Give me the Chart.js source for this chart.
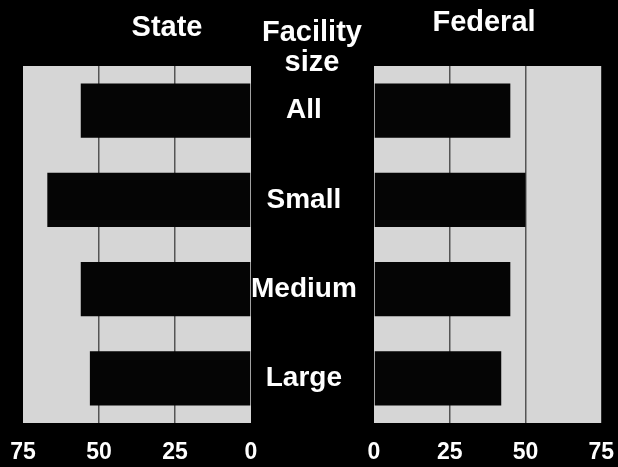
<!DOCTYPE html>
<html>
<head>
<meta charset="utf-8">
<script src="https://cdn.jsdelivr.net/npm/chart.js@4.4.0/dist/chart.umd.min.js"></script>
<style>
    html, body { margin: 0; padding: 0; background: #000; }
    #wrap { position: relative; width: 618px; height: 467px; overflow: hidden; background: #000; }
    canvas { position: absolute; top: 0; }
    .rotulo {
        position: absolute;
        color: #fff;
        font-family: "Liberation Sans", Arial, sans-serif;
        font-weight: bold;
        font-size: 29px;
        line-height: 29px;
        white-space: nowrap;
        transform: translateX(-50%);
    }
</style>
</head>
<body>
<div id="wrap">
    <canvas id="estatal" width="374" height="467" style="left:0"></canvas>
    <canvas id="federal" width="286" height="467" style="left:344px"></canvas>
    <div class="rotulo" style="left:167px; top:12px">State</div>
    <div class="rotulo" style="left:484px; top:7px">Federal</div>
    <div class="rotulo" style="left:312px; top:17px">Facility</div>
    <div class="rotulo" style="left:312px; top:47px">size</div>
</div>
<script>
    const tamanos = ['All', 'Small', 'Medium', 'Large'];
    const estatal = [56, 67, 56, 53];
    const federal = [45, 50, 45, 42];
    const marcas = [0, 25, 50, 75];

    const fondoPanel = {
        id: 'fondoPanel',
        beforeDraw(chart) {
            const a = chart.chartArea;
            const c = chart.ctx;
            c.save();
            c.fillStyle = '#d6d6d6';
            c.fillRect(a.left, a.top, a.right - a.left, a.bottom - a.top);
            c.restore();
        }
    };

    function ejeX(invertido) {
        return {
            reverse: invertido,
            min: 0,
            max: 75,
            afterFit: function(eje) { eje.height = 44; },
            afterBuildTicks: function(eje) {
                eje.ticks = marcas.map(v => ({ value: v }));
            },
            ticks: {
                color: '#fff',
                padding: 16,
                maxRotation: 0,
                font: { family: 'Liberation Sans', weight: 'bold', size: 23 }
            },
            grid: {
                drawTicks: false,
                lineWidth: 1.5,
                color: function(ctx) {
                    const v = ctx.tick ? ctx.tick.value : null;
                    return (v === 25 || v === 50) ? '#555' : 'rgba(0,0,0,0)';
                }
            },
            border: { display: false }
        };
    }

    function crearGrafico(id, valores, invertido, padding, conEtiquetas) {
        const ctx = document.getElementById(id).getContext('2d');
        return new Chart(ctx, {
            type: 'bar',
            data: {
                labels: tamanos,
                datasets: [{
                    data: valores,
                    backgroundColor: '#050505',
                    borderWidth: 0,
                    barPercentage: 0.61,
                    categoryPercentage: 1
                }]
            },
            options: {
                indexAxis: 'y',
                responsive: false,
                animation: false,
                layout: { padding: padding },
                scales: {
                    x: ejeX(invertido),
                    y: conEtiquetas ? {
                        position: 'right',
                        afterFit: function(eje) { eje.width = 123; },
                        ticks: {
                            color: '#fff',
                            crossAlign: 'center',
                            padding: 0,
                            font: { family: 'Liberation Sans', weight: 'bold', size: 28 }
                        },
                        grid: { display: false, drawTicks: false },
                        border: { display: false }
                    } : {
                        display: false
                    }
                },
                plugins: {
                    legend: { display: false },
                    tooltip: { enabled: false }
                }
            },
            plugins: [fondoPanel]
        });
    }

    crearGrafico('estatal', estatal, true, { left: 23, top: 66, right: 0, bottom: 0 }, true);
    crearGrafico('federal', federal, false, { left: 30, top: 66, right: 5, bottom: 0 }, false);
</script>
</body>
</html>
